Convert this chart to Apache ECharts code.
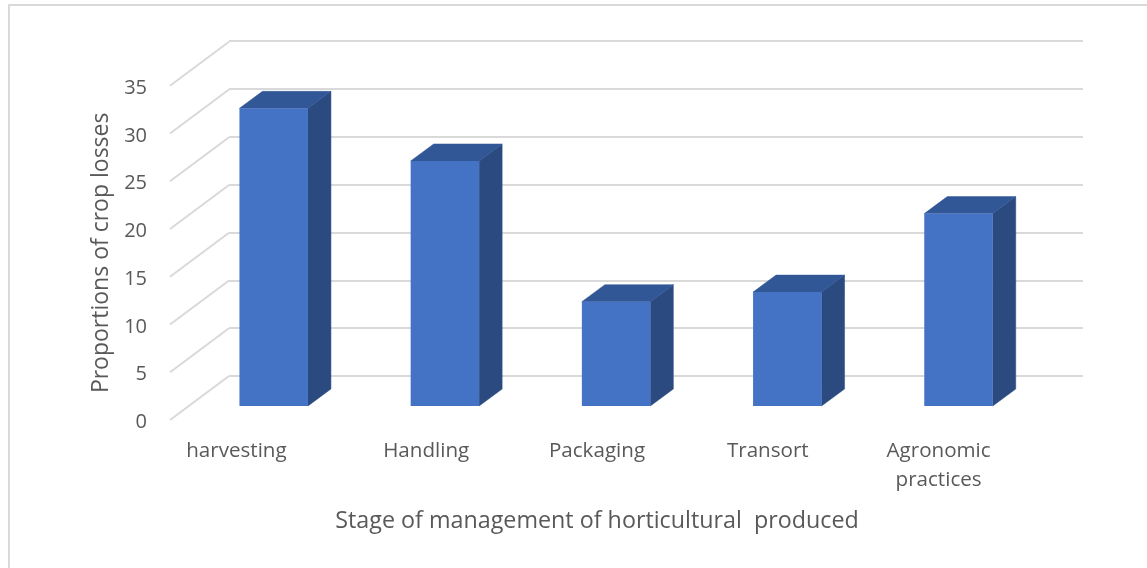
<!DOCTYPE html>
<html>
<head>
<meta charset="utf-8">
<style>
  html, body { margin: 0; padding: 0; background: #fff; }
  #chart { width: 1147px; height: 568px; }
</style>
<script src="https://cdn.jsdelivr.net/npm/echarts@6/dist/echarts.min.js"></script>
</head>
<body>
<div id="chart"></div>
<script>
const categories = ['harvesting', 'Handling', 'Packaging', 'Transort', 'Agronomic\npractices']
const losses = [31.1, 25.6, 10.9, 11.9, 20.1]
const ticks = [0, 5, 10, 15, 20, 25, 30, 35]
const yTitle = 'Proportions of crop losses'
const xTitle = 'Stage of management of horticultural  produced'

const textColor = '#595959'
const gridColor = '#d9d9d9'
const fontFamily = '"Open Sans", sans-serif'

// fake 3d: bar depth and wall depth in px
const barDepth = [23, -17]
const wallDepth = [59, -44]

function renderWall (params, api) {
  const p = api.coord([0, api.value(0)])
  const x = p[0] - api.size([1, 0])[0] / 2
  return {
    type: 'line',
    shape: { x1: x, y1: p[1], x2: x + wallDepth[0], y2: p[1] + wallDepth[1] },
    style: { stroke: gridColor, lineWidth: 2 }
  }
}

function renderBar (params, api) {
  const top = api.coord([api.value(0), api.value(1)])
  const bottom = api.coord([api.value(0), 0])
  const w = api.size([1, 0])[0] * 0.4
  const l = top[0] - w / 2
  const r = top[0] + w / 2
  const dx = barDepth[0]
  const dy = barDepth[1]
  return {
    type: 'group',
    children: [
      {
        type: 'polygon',
        shape: { points: [[r, top[1]], [r + dx, top[1] + dy], [r + dx, bottom[1] + dy], [r, bottom[1]]] },
        style: { fill: '#2a4a80', stroke: '#2a4a80', lineWidth: 0.5 }
      },
      {
        type: 'polygon',
        shape: { points: [[l, top[1]], [l + dx, top[1] + dy], [r + dx, top[1] + dy], [r, top[1]]] },
        style: { fill: '#325796', stroke: '#325796', lineWidth: 0.5 }
      },
      {
        type: 'rect',
        shape: { x: l, y: top[1], width: w, height: bottom[1] - top[1] },
        style: { fill: '#4472c4' }
      }
    ]
  }
}

const chart = echarts.init(document.getElementById('chart'), null, { renderer: 'canvas' })

chart.setOption({
  animation: false,
  backgroundColor: '#fff',
  graphic: [
    {
      type: 'polyline',
      shape: { points: [[9, 568], [9, 5], [1147, 5]] },
      style: { stroke: gridColor, lineWidth: 2, fill: null }
    }
  ],
  grid: [
    // front edge, carries the labels
    { left: 170, width: 854, top: 85.7, height: 334.3 },
    // back wall
    { left: 229, right: 64, top: 41, height: 335 },
    // plane the bars stand on
    { left: 188.1, width: 856, top: 71, height: 335 }
  ],
  xAxis: [
    {
      type: 'category',
      gridIndex: 0,
      data: categories,
      name: xTitle,
      nameLocation: 'middle',
      nameGap: 90,
      nameTextStyle: { color: textColor, fontSize: 23.3, fontFamily },
      axisLine: { show: false },
      axisTick: { show: false },
      axisLabel: {
        interval: 0,
        hideOverlap: false,
        color: textColor,
        fontSize: 20.6,
        fontFamily,
        lineHeight: 29,
        margin: 17,
        formatter: (v, i) => (i === 0 ? '{first|' + v + '}' : v),
        rich: {
          first: { color: textColor, fontSize: 20.6, fontFamily, padding: [0, 38, 0, 0] }
        }
      }
    },
    { type: 'category', gridIndex: 1, data: categories, show: false },
    { type: 'category', gridIndex: 2, data: categories, show: false }
  ],
  yAxis: [
    {
      type: 'value',
      gridIndex: 0,
      min: ticks[0],
      max: ticks[ticks.length - 1],
      interval: 5,
      name: yTitle,
      nameLocation: 'middle',
      nameGap: 57,
      nameTextStyle: { color: textColor, fontSize: 23, fontFamily },
      axisLine: { show: false },
      axisTick: { show: false },
      splitLine: { show: false },
      axisLabel: {
        color: textColor,
        fontSize: 20,
        fontFamily,
        margin: 23,
        formatter: v => '{n|' + v + '}',
        rich: {
          n: { color: textColor, fontSize: 20, fontFamily, padding: [5, 0, 0, 0] }
        }
      }
    },
    {
      type: 'value',
      gridIndex: 1,
      min: ticks[0],
      max: ticks[ticks.length - 1],
      interval: 5,
      axisLine: { show: false },
      axisTick: { show: false },
      axisLabel: { show: false },
      splitLine: { show: true, lineStyle: { color: gridColor, width: 2 } }
    },
    {
      type: 'value',
      gridIndex: 2,
      min: ticks[0],
      max: ticks[ticks.length - 1],
      show: false
    }
  ],
  series: [
    {
      type: 'custom',
      xAxisIndex: 0,
      yAxisIndex: 0,
      data: ticks.map(v => [v]),
      encode: { y: 0 },
      renderItem: renderWall,
      silent: true
    },
    {
      type: 'custom',
      xAxisIndex: 2,
      yAxisIndex: 2,
      data: losses.map((v, i) => [i, v]),
      encode: { x: 0, y: 1 },
      renderItem: renderBar,
      z: 5
    }
  ]
})
</script>
</body>
</html>
